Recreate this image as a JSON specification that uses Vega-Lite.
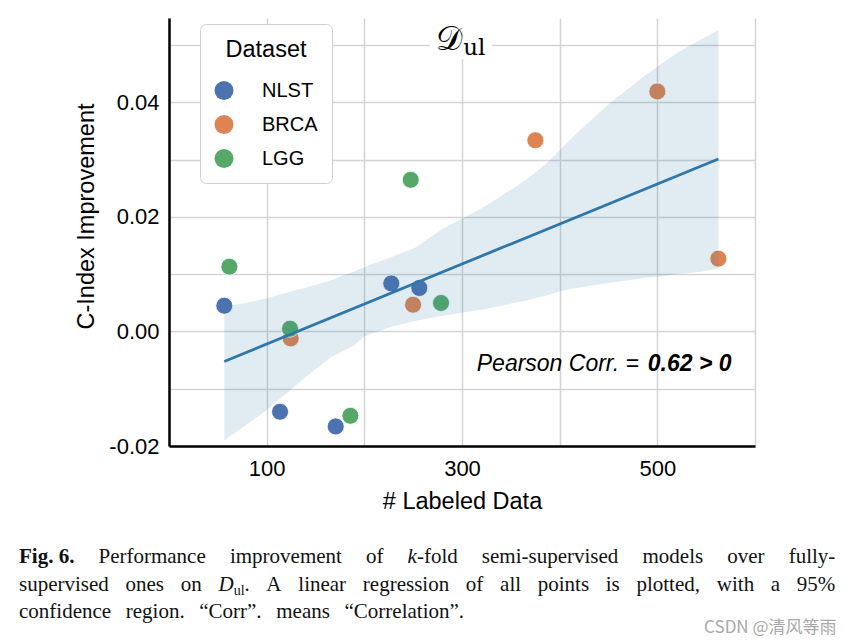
{
  "$schema": "https://vega.github.io/schema/vega-lite/v6.json",
  "width": 586,
  "height": 428,
  "autosize": {"type": "none"},
  "padding": {"left": 169, "top": 18, "right": 96, "bottom": 197},
  "background": "white",
  "config": {
    "view": {"stroke": null},
    "font": "Liberation Sans",
    "axis": {
      "domainColor": "black",
      "domainWidth": 2.5,
      "gridColor": "#d4d4d4",
      "gridWidth": 1.5,
      "ticks": false,
      "labelFont": "Liberation Sans",
      "labelFontSize": 22,
      "labelColor": "black",
      "labelOverlap": false,
      "titleFont": "Liberation Sans",
      "titleFontSize": 23.5,
      "titleFontWeight": "normal",
      "titleColor": "black"
    },
    "legend": {
      "orient": "none",
      "legendX": 31,
      "legendY": 6,
      "fillColor": "white",
      "strokeColor": "#cfcfcf",
      "cornerRadius": 6,
      "padding": 14,
      "titleFont": "Liberation Sans",
      "titleFontSize": 23.5,
      "titleFontWeight": "normal",
      "titleColor": "black",
      "titleAnchor": "middle",
      "titlePadding": 19,
      "labelFont": "Liberation Sans",
      "labelFontSize": 20,
      "labelColor": "black",
      "labelOffset": 28,
      "symbolSize": 361,
      "symbolType": "circle",
      "symbolStrokeWidth": 0,
      "symbolOpacity": 1,
      "rowPadding": 14
    }
  },
  "datasets": {
    "points": [
      {"x": 56.6, "y": 0.00449, "set": "NLST"},
      {"x": 113.7, "y": -0.01403, "set": "NLST"},
      {"x": 170.7, "y": -0.01659, "set": "NLST"},
      {"x": 227.6, "y": 0.00838, "set": "NLST"},
      {"x": 256.3, "y": 0.00758, "set": "NLST"},
      {"x": 124.6, "y": -0.00122, "set": "BRCA"},
      {"x": 249.9, "y": 0.00466, "set": "BRCA"},
      {"x": 375.1, "y": 0.03336, "set": "BRCA"},
      {"x": 500.0, "y": 0.04187, "set": "BRCA"},
      {"x": 562.5, "y": 0.0127, "set": "BRCA"},
      {"x": 61.8, "y": 0.0113, "set": "LGG"},
      {"x": 123.9, "y": 0.00047, "set": "LGG"},
      {"x": 185.7, "y": -0.01473, "set": "LGG"},
      {"x": 247.5, "y": 0.02645, "set": "LGG"},
      {"x": 278.5, "y": 0.00496, "set": "LGG"}
    ],
    "fit": [
      {"x": 56.6, "y": -0.00524},
      {"x": 562.5, "y": 0.0301}
    ],
    "band": [
      {"x": 56.6, "y": 0.0043, "y2": -0.019},
      {"x": 80, "y": 0.005, "y2": -0.0162},
      {"x": 100, "y": 0.0058, "y2": -0.0137},
      {"x": 132, "y": 0.0073, "y2": -0.0091},
      {"x": 150, "y": 0.0081, "y2": -0.0066},
      {"x": 167, "y": 0.009, "y2": -0.0044},
      {"x": 190, "y": 0.0105, "y2": -0.0024},
      {"x": 200, "y": 0.0112, "y2": -0.0009},
      {"x": 225, "y": 0.0128, "y2": 0.0007},
      {"x": 252, "y": 0.0146, "y2": 0.0018},
      {"x": 279, "y": 0.0178, "y2": 0.0027},
      {"x": 298, "y": 0.0195, "y2": 0.0032},
      {"x": 320, "y": 0.0215, "y2": 0.0038},
      {"x": 332, "y": 0.0227, "y2": 0.0042},
      {"x": 366, "y": 0.0265, "y2": 0.0054},
      {"x": 387, "y": 0.0294, "y2": 0.0063},
      {"x": 400, "y": 0.0316, "y2": 0.007},
      {"x": 418, "y": 0.0347, "y2": 0.0076},
      {"x": 452, "y": 0.0399, "y2": 0.0085},
      {"x": 486, "y": 0.0445, "y2": 0.0093},
      {"x": 503, "y": 0.0466, "y2": 0.0096},
      {"x": 520, "y": 0.0486, "y2": 0.01},
      {"x": 545, "y": 0.051, "y2": 0.0104},
      {"x": 562.5, "y": 0.0525, "y2": 0.011}
    ],
    "titlebg": [
      {"x": 267, "x2": 331, "y": 0.0475, "y2": 0.0547}
    ],
    "notes": [
      {"x": 315.1, "y": -0.00686, "t": "Pearson Corr. = ", "s": "it"},
      {"x": 490.2, "y": -0.00686, "t": "0.62 > 0", "s": "bi"},
      {"x": 273.4, "y": 0.0491, "t": "𝒟", "s": "cal"},
      {"x": 301.2, "y": 0.0483, "t": "ul", "s": "sub"}
    ],
    "caption": [
      {"x": -153.6, "y": -0.04049, "t": "Fig. 6.", "s": "b"},
      {"x": -72.2, "y": -0.04049, "t": "Performance", "s": "n"},
      {"x": 62.4, "y": -0.04049, "t": "improvement", "s": "n"},
      {"x": 201.8, "y": -0.04049, "t": "of", "s": "n"},
      {"x": 244.3, "y": -0.04049, "t": "k", "s": "i"},
      {"x": 253.9, "y": -0.04049, "t": "-fold", "s": "n"},
      {"x": 320.3, "y": -0.04049, "t": "semi-supervised", "s": "n"},
      {"x": 484.8, "y": -0.04049, "t": "models", "s": "n"},
      {"x": 571.6, "y": -0.04049, "t": "over", "s": "n"},
      {"x": 634.5, "y": -0.04049, "t": "fully-", "s": "n"},
      {"x": -153.6, "y": -0.04529, "t": "supervised", "s": "n"},
      {"x": -44.5, "y": -0.04529, "t": "ones", "s": "n"},
      {"x": 12.0, "y": -0.04529, "t": "on", "s": "n"},
      {"x": 50.6, "y": -0.04529, "t": "D", "s": "i"},
      {"x": 66.2, "y": -0.046, "t": "ul", "s": "sub"},
      {"x": 77.3, "y": -0.04529, "t": ".", "s": "n"},
      {"x": 99.7, "y": -0.04529, "t": "A", "s": "n"},
      {"x": 132.4, "y": -0.04529, "t": "linear", "s": "n"},
      {"x": 198.5, "y": -0.04529, "t": "regression", "s": "n"},
      {"x": 303.9, "y": -0.04529, "t": "of", "s": "n"},
      {"x": 339.0, "y": -0.04529, "t": "all", "s": "n"},
      {"x": 377.6, "y": -0.04529, "t": "points", "s": "n"},
      {"x": 447.2, "y": -0.04529, "t": "is", "s": "n"},
      {"x": 478.6, "y": -0.04529, "t": "plotted,", "s": "n"},
      {"x": 560.9, "y": -0.04529, "t": "with", "s": "n"},
      {"x": 616.2, "y": -0.04529, "t": "a", "s": "n"},
      {"x": 642.8, "y": -0.04529, "t": "95%", "s": "n"},
      {"x": -153.6, "y": -0.0501, "t": "confidence", "s": "n"},
      {"x": -44.3, "y": -0.0501, "t": "region.", "s": "n"},
      {"x": 30.9, "y": -0.0501, "t": "“Corr”.", "s": "n"},
      {"x": 109.8, "y": -0.0501, "t": "means", "s": "n"},
      {"x": 179.7, "y": -0.0501, "t": "“Correlation”.", "s": "n"},
      {"x": 547.9, "y": -0.05263, "t": "CSDN @清风等雨", "s": "wm"}
    ]
  },
  "encoding": {
    "x": {
      "field": "x",
      "type": "quantitative",
      "scale": {"domain": [0, 600], "nice": false, "zero": false},
      "axis": {
        "title": "# Labeled Data",
        "values": [0, 100, 200, 300, 400, 500, 600],
        "labelExpr": "datum.value == 100 || datum.value == 300 || datum.value == 500 ? datum.label : ''",
        "labelPadding": 12,
        "titlePadding": 10,
        "labelFlush": false
      }
    },
    "y": {
      "field": "y",
      "type": "quantitative",
      "scale": {"domain": [-0.02, 0.0547], "nice": false, "zero": false},
      "axis": {
        "title": "C-Index Improvement",
        "values": [-0.02, -0.01, 0, 0.01, 0.02, 0.03, 0.04, 0.05],
        "labelExpr": "abs(round(datum.value * 100)) % 2 == 0 ? (datum.value < -0.0001 ? '-' + format(-datum.value, '.2f') : format(abs(datum.value), '.2f')) : ''",
        "labelPadding": 10,
        "titlePadding": 10,
        "titleY": 198
      }
    }
  },
  "layer": [
    {
      "data": {"name": "points"},
      "mark": {"type": "circle", "size": 289, "opacity": 1, "stroke": "white", "strokeWidth": 0.8},
      "encoding": {
        "color": {
          "field": "set",
          "type": "nominal",
          "title": "Dataset",
          "scale": {"domain": ["NLST", "BRCA", "LGG"], "range": ["#4c72b0", "#dd8452", "#55a868"]}
        }
      }
    },
    {
      "data": {"name": "band"},
      "mark": {"type": "area", "color": "#2f77aa", "opacity": 0.15},
      "encoding": {"y2": {"field": "y2"}}
    },
    {
      "data": {"name": "fit"},
      "mark": {"type": "line", "color": "#2f77aa", "strokeWidth": 2.8},
      "encoding": {}
    },
    {
      "data": {"name": "titlebg"},
      "mark": {"type": "rect", "fill": "white"},
      "encoding": {"x2": {"field": "x2"}, "y2": {"field": "y2"}}
    },
    {
      "data": {"name": "notes"},
      "transform": [{"filter": "datum.s == 'it'"}],
      "mark": {"type": "text", "align": "left", "baseline": "alphabetic", "font": "Liberation Sans", "fontSize": 23, "fontStyle": "italic", "color": "black"},
      "encoding": {"text": {"field": "t"}}
    },
    {
      "data": {"name": "notes"},
      "transform": [{"filter": "datum.s == 'bi'"}],
      "mark": {"type": "text", "align": "left", "baseline": "alphabetic", "font": "Liberation Sans", "fontSize": 23, "fontStyle": "italic", "fontWeight": "bold", "color": "black"},
      "encoding": {"text": {"field": "t"}}
    },
    {
      "data": {"name": "notes"},
      "transform": [{"filter": "datum.s == 'cal'"}],
      "mark": {"type": "text", "align": "left", "baseline": "alphabetic", "font": "DejaVu Serif", "fontSize": 33, "color": "black"},
      "encoding": {"text": {"field": "t"}}
    },
    {
      "data": {"name": "notes"},
      "transform": [{"filter": "datum.s == 'sub'"}],
      "mark": {"type": "text", "align": "left", "baseline": "alphabetic", "font": "DejaVu Serif", "fontSize": 23, "color": "black"},
      "encoding": {"text": {"field": "t"}}
    },
    {
      "data": {"name": "caption"},
      "transform": [{"filter": "datum.s == 'n'"}],
      "mark": {"type": "text", "align": "left", "baseline": "alphabetic", "font": "Liberation Serif", "fontSize": 21, "color": "#111111"},
      "encoding": {"text": {"field": "t"}}
    },
    {
      "data": {"name": "caption"},
      "transform": [{"filter": "datum.s == 'b'"}],
      "mark": {"type": "text", "align": "left", "baseline": "alphabetic", "font": "Liberation Serif", "fontSize": 21, "fontWeight": "bold", "color": "#111111"},
      "encoding": {"text": {"field": "t"}}
    },
    {
      "data": {"name": "caption"},
      "transform": [{"filter": "datum.s == 'i'"}],
      "mark": {"type": "text", "align": "left", "baseline": "alphabetic", "font": "Liberation Serif", "fontSize": 21, "fontStyle": "italic", "color": "#111111"},
      "encoding": {"text": {"field": "t"}}
    },
    {
      "data": {"name": "caption"},
      "transform": [{"filter": "datum.s == 'sub'"}],
      "mark": {"type": "text", "align": "left", "baseline": "alphabetic", "font": "Liberation Serif", "fontSize": 14, "color": "#111111"},
      "encoding": {"text": {"field": "t"}}
    },
    {
      "data": {"name": "caption"},
      "transform": [{"filter": "datum.s == 'wm'"}],
      "mark": {"type": "text", "align": "left", "baseline": "alphabetic", "font": "Noto Sans CJK SC", "fontSize": 17, "color": "#a8a8a8"},
      "encoding": {"text": {"field": "t"}}
    }
  ]
}
